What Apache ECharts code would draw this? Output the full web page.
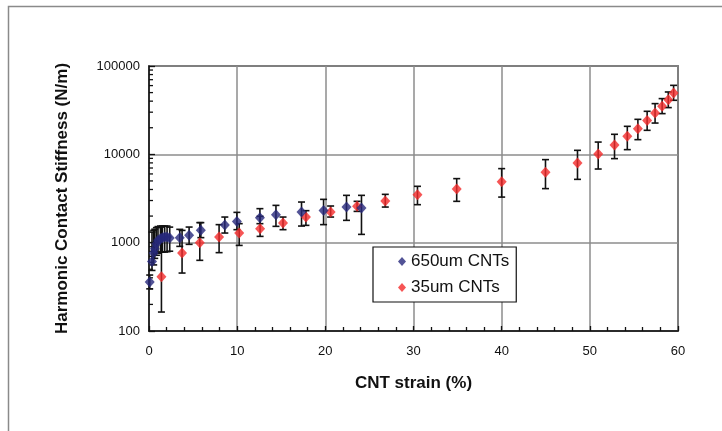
<!DOCTYPE html>
<html>
<head>
<meta charset="utf-8">
<script src="https://cdn.jsdelivr.net/npm/echarts@6/dist/echarts.min.js"></script>
<style>
html,body{margin:0;padding:0;background:#fff;}
#c{width:722px;height:431px;}
</style>
</head>
<body>
<div id="c"></div>
<script>
// ---- data ----
const blueName = '650um CNTs';
const redName = '35um CNTs';

const blueX = [0.08, 0.34, 0.53, 0.65, 0.84, 1.02, 1.3, 1.52, 1.78, 2.05, 2.35, 3.49, 4.55, 5.88, 8.6, 9.97, 12.58, 14.4, 17.3, 19.8, 22.4, 24.1];
const blueY = [358, 614, 762, 855, 975, 1063, 1110, 1140, 1157, 1157, 1128, 1140, 1210, 1378, 1585, 1740, 1920, 2075, 2220, 2320, 2530, 2465];
const blueLow = [300, 485, 560, 664, 720, 760, 780, 783, 783, 790, 800, 908, 957, 1140, 1285, 1403, 1641, 1530, 1542, 1600, 1789, 1241];
const blueHigh = [430, 1318, 1377, 1420, 1480, 1520, 1542, 1542, 1542, 1542, 1500, 1415, 1502, 1686, 1950, 2203, 2427, 2644, 2884, 3093, 3433, 3433];

const redX = [1.41, 3.75, 5.76, 7.95, 10.23, 12.6, 15.2, 17.8, 20.6, 23.6, 26.8, 30.45, 34.9, 40.0, 44.97, 48.6, 50.95, 52.8, 54.25, 55.45, 56.5, 57.4, 58.2, 58.9, 59.5];
const redY = [412, 762, 1000, 1157, 1285, 1441, 1667, 1950, 2222, 2576, 2960, 3497, 4046, 4909, 6252, 7965, 10070, 12740, 16000, 19540, 24100, 29380, 35000, 41600, 49450];
const redLow = [164, 453, 631, 771, 931, 1178, 1403, 1570, 1950, 2260, 2530, 2692, 2937, 3281, 4090, 5210, 6820, 8940, 11300, 14660, 18700, 22600, 28900, 33800, 40900];
const redHigh = [1502, 1377, 1686, 1600, 1641, 1986, 1950, 2303, 2600, 2937, 3524, 4345, 5309, 6890, 8710, 11100, 13770, 16860, 20750, 24900, 30700, 37500, 42750, 50800, 60400];

const yMinorTicks = [200, 300, 400, 500, 600, 700, 800, 900, 2000, 3000, 4000, 5000, 6000, 7000, 8000, 9000, 20000, 30000, 40000, 50000, 60000, 70000, 80000, 90000];

const xTitle = 'CNT strain (%)';
const yTitle = 'Harmonic Contact Stiffness (N/m)';

// ---- chart ----
const FONT = 'Liberation Sans, Arial, sans-serif';
const chart = echarts.init(document.getElementById('c'), null, {renderer: 'canvas'});

function zip3(xs, lo, hi) { return xs.map((x, i) => [x, lo[i], hi[i]]); }
function zip2(xs, ys) { return xs.map((x, i) => [x, ys[i]]); }

function errRender(params, api) {
  const x = api.value(0);
  const p1 = api.coord([x, api.value(1)]);
  const p2 = api.coord([x, api.value(2)]);
  const hw = 3.5;
  const st = {stroke: '#111', lineWidth: 1.6};
  return {
    type: 'group',
    children: [
      {type: 'line', shape: {x1: p1[0], y1: p1[1], x2: p2[0], y2: p2[1]}, style: st},
      {type: 'line', shape: {x1: p1[0] - hw, y1: p1[1], x2: p1[0] + hw, y2: p1[1]}, style: st},
      {type: 'line', shape: {x1: p2[0] - hw, y1: p2[1], x2: p2[0] + hw, y2: p2[1]}, style: st}
    ]
  };
}

function minorRender(params, api) {
  const p = api.coord([0, api.value(0)]);
  return {type: 'line', shape: {x1: p[0], y1: p[1], x2: p[0] + 4, y2: p[1]}, style: {stroke: '#111', lineWidth: 1.3}};
}

const option = {
  backgroundColor: '#fff',
  animation: false,
  graphic: [{
    type: 'rect', left: 6, top: 4, silent: true, z: -10,
    shape: {width: 730, height: 440},
    style: {fill: 'none', stroke: '#8a8a8a', lineWidth: 1.5}
  }],
  grid: {
    left: 149, top: 66, right: 44, bottom: 100,
    show: true, borderColor: '#222', borderWidth: 1.5, backgroundColor: 'transparent'
  },
  legend: {
    left: 373, top: 247,
    orient: 'vertical',
    data: [blueName, redName],
    icon: 'diamond',
    itemWidth: 8, itemHeight: 9,
    itemGap: 9,
    itemTextGap: 5,
    padding: [6, 7, 6, 25],
    backgroundColor: '#fff',
    borderColor: '#111', borderWidth: 1.2, borderRadius: 0,
    textStyle: {fontFamily: FONT, fontSize: 17, color: '#111'}
  },
  xAxis: {
    type: 'value', min: 0, max: 60, interval: 10,
    name: xTitle, nameLocation: 'middle', nameGap: 44,
    nameTextStyle: {fontFamily: FONT, fontSize: 17, fontWeight: 'bold', color: '#111'},
    axisLine: {show: true, onZero: false, lineStyle: {color: '#111', width: 1.5}},
    axisTick: {show: true, inside: true, length: 5, lineStyle: {color: '#111', width: 1.3}},
    minorTick: {show: true, splitNumber: 5, length: 4, lineStyle: {color: '#111', width: 1.3}},
    axisLabel: {fontFamily: FONT, fontSize: 13, color: '#111', margin: 14},
    splitLine: {show: true, lineStyle: {color: '#8c8c8c', width: 1.5}}
  },
  yAxis: {
    type: 'log', logBase: 10, min: 100, max: 100000,
    name: yTitle, nameLocation: 'middle', nameGap: 78, nameRotate: 90,
    nameTextStyle: {fontFamily: FONT, fontSize: 17, fontWeight: 'bold', color: '#111'},
    axisLine: {show: true, onZero: false, lineStyle: {color: '#111', width: 1.5}},
    axisTick: {show: true, inside: true, length: 6, lineStyle: {color: '#111', width: 1.3}},
    axisLabel: {fontFamily: FONT, fontSize: 13, color: '#111', margin: 9,
      formatter: v => String(Math.round(v))},
    splitLine: {show: true, lineStyle: {color: '#8c8c8c', width: 1.5}}
  },
  series: [
    {
      type: 'custom', name: 'yminor', renderItem: minorRender, silent: true,
      data: yMinorTicks.map(v => [v]), encode: {y: 0}, z: 3
    },
    {
      type: 'custom', name: 'redErr', renderItem: errRender, silent: true,
      data: zip3(redX, redLow, redHigh), encode: {x: 0, y: [1, 2]}, z: 4, clip: false
    },
    {
      type: 'custom', name: 'blueErr', renderItem: errRender, silent: true,
      data: zip3(blueX, blueLow, blueHigh), encode: {x: 0, y: [1, 2]}, z: 4, clip: false
    },
    {
      type: 'scatter', name: redName, data: zip2(redX, redY),
      symbol: 'diamond', symbolSize: [10, 11], z: 5, clip: false,
      itemStyle: {color: '#f42a2a'}
    },
    {
      type: 'scatter', name: blueName, data: zip2(blueX, blueY),
      symbol: 'diamond', symbolSize: [10, 11], z: 6, clip: false,
      itemStyle: {color: '#27287c'}
    }
  ]
};
chart.setOption(option);
</script>
</body>
</html>
